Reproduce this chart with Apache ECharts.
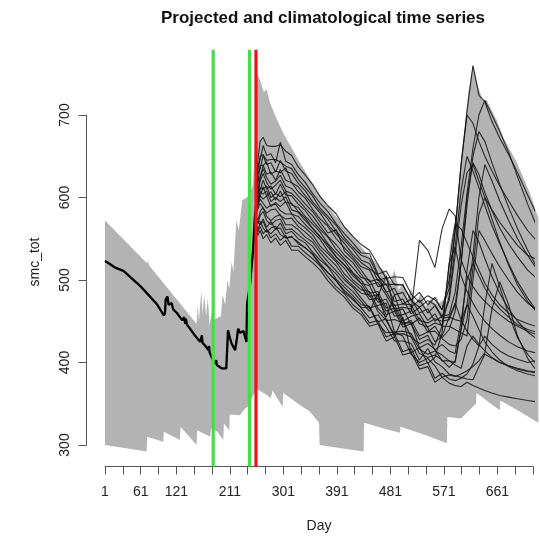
<!DOCTYPE html>
<html><head><meta charset="utf-8">
<script src="https://cdn.jsdelivr.net/npm/echarts@6/dist/echarts.min.js"></script>
<style>html,body{margin:0;padding:0;background:#fff}#c{width:540px;height:537px}</style>
</head><body><div id="c"></div>
<script>
const chartTitle = 'Projected and climatological time series';
const xTicks = [1,31,61,91,121,151,181,211,241,271,301,331,361,391,421,451,481,511,541,571,601,631,661,691,721];
const xLabels = [1,61,121,211,301,391,481,571,661];
const yMin = 300, yMax = 700, yStep = 100;

// climatological envelope
const envUpperDays = [1,72,73,75,155,157,159,163,165,168,171,174,177,181,184,196,199,203,207,210,214,217,222,226,232,240,245,250,253,256,262,268,273,279,290,301,312,329,357,385,413,441,469,482,488,495,503,510,516,524,532,540,550,560,570,576,581,587,593,598,604,612,620,629,637,643,660,671,694,716,730];
const envUpper = [572,520,525,518,447,470,450,487,458,482,456,478,445,462,452,456,482,470,500,490,522,510,573,560,597,600,606,615,660,752,742,728,731,714,695,678,664,642,609,581,558,532,512,498,512,488,497,478,490,470,484,468,478,470,476,474,540,562,585,630,666,727,761,734,716,718,694,673,642,605,575];
const envLowerDays = [1,71,72,99,100,127,128,155,156,178,179,190,200,201,210,211,228,235,243,250,256,270,280,283,300,301,330,345,361,362,390,436,437,470,497,498,540,576,577,600,612,625,626,665,666,700,730];
const envLower = [300,292,310,304,316,306,322,300,318,310,320,316,306,326,318,337,336,343,348,360,368,362,357,366,346,363,348,341,327,300,297,292,327,320,315,322,312,302,334,332,341,350,363,342,354,340,327];

// observed series
const obsDays = [1,8,14,17,18,32,46,60,74,88,100,102,103,106,108,110,113,116,122,127,131,134,136,137,139,144,152,161,164,165,170,175,176,177,183,186,188,189,197,205,208,211,214,220,223,225,228,231,234,237,239,240,245,250,253,255];
const obsValues = [523,520,517,519,515,511,502,493,482,471,457,460,476,480,470,468,472,464,460,455,451,455,447,453,446,441,433,425,433,424,420,415,420,412,402,399,403,397,393,393,439,430,423,415,430,441,436,438,438,430,425,471,495,535,575,590];

// projected ensemble members
const projDays = [255,258,262,267,273,280,288,296,305,315,326,338,350,363,376,390,404,418,432,446,460,474,488,502,516,530,544,556,568,580,590,600,610,620,630,640,652,665,680,695,712,730];
const member01 = [610,637,646,663,651,653,642,667,644,640,628,618,605,593,583,568,556,545,533,532,507,511,494,494,476,485,470,479,464,500,560,640,705,760,724,716,692,672,652,630,603,575];
const member02 = [603,616,639,639,643,628,632,630,636,618,613,602,592,581,567,556,544,531,521,514,506,485,490,471,477,460,465,450,456,458,485,540,605,660,700,718,700,680,655,625,592,560];
const member03 = [615,645,668,673,663,662,662,664,656,651,637,627,616,601,590,580,564,553,543,536,519,502,504,503,483,473,481,476,464,490,560,640,700,690,668,650,632,614,596,578,560,545];
const member04 = [597,605,625,635,624,616,620,627,614,611,602,592,583,570,557,561,535,525,512,498,501,486,469,471,470,451,448,453,450,452,470,520,590,650,680,668,642,616,588,562,536,512];
const member05 = [592,608,609,621,610,614,604,616,603,602,592,584,572,561,552,537,526,515,503,500,480,505,462,465,446,454,437,444,430,440,462,520,600,642,628,606,584,563,544,528,512,500];
const member06 = [588,591,607,604,608,595,600,595,601,585,582,572,563,553,540,528,518,505,496,480,482,462,466,446,451,432,437,438,429,422,420,428,452,515,580,600,574,546,518,494,474,459];
const member07 = [583,590,598,593,587,591,592,584,580,580,570,563,555,541,532,522,507,497,488,486,466,455,482,452,431,423,428,421,444,520,568,562,545,528,512,496,482,470,460,452,447,443];
const member08 = [578,572,583,588,577,572,577,579,567,567,561,552,546,533,522,511,500,491,478,466,469,472,437,438,435,416,410,414,409,402,400,440,512,560,546,526,504,484,465,450,437,427];
const member09 = [573,575,567,574,564,571,561,569,556,559,550,545,534,524,516,501,491,481,470,468,449,453,431,455,412,418,399,406,436,520,540,505,486,472,460,450,441,433,425,419,414,411];
const member10 = [568,558,565,556,561,551,556,548,554,541,541,533,526,517,504,492,483,470,462,448,451,431,435,413,417,396,400,381,387,380,378,381,386,398,420,470,520,492,458,430,410,395];
const member11 = [570,569,571,563,558,563,565,555,551,553,544,539,531,518,509,499,485,476,467,466,447,436,437,432,410,400,405,396,382,385,383,386,390,395,402,412,465,498,470,432,405,387];
const member12 = [575,568,578,583,572,567,572,574,561,562,555,548,541,528,517,507,495,486,474,462,483,451,434,435,431,411,406,409,403,394,402,440,470,456,440,425,413,403,395,390,386,383];
const member13 = [586,601,601,613,602,607,597,608,594,593,583,575,563,552,543,528,518,508,496,493,473,477,456,458,462,548,536,515,562,586,578,525,505,492,482,474,466,458,450,444,438,433];
const member14 = [565,554,560,550,555,545,551,542,548,536,536,528,521,512,499,488,479,466,458,444,447,426,431,409,412,392,395,376,382,375,372,371,376,372,369,366,363,360,358,356,354,352];
const member15 = [580,586,593,587,581,585,586,578,574,575,565,558,550,537,527,517,503,493,484,482,462,451,452,448,448,418,423,416,402,402,397,393,420,432,422,414,406,400,396,392,389,387];
const member16 = [595,601,620,629,618,610,615,621,608,605,597,587,578,565,553,543,530,521,507,494,497,482,465,467,465,447,443,448,445,480,540,608,650,632,612,590,566,544,520,498,478,460];
const member17 = [600,620,624,639,628,631,621,634,621,618,607,599,586,574,565,550,539,528,516,512,492,495,474,477,459,467,451,459,444,444,440,436,432,500,560,548,532,516,500,485,472,462];
const member18 = [590,595,612,610,614,600,605,601,607,591,588,577,568,558,544,533,523,509,500,484,486,466,470,450,456,459,442,425,432,455,472,452,438,428,420,432,422,414,408,404,400,403];
const member19 = [607,631,650,652,645,646,646,643,638,635,622,612,602,587,577,566,551,540,530,526,505,494,495,494,475,467,475,470,456,475,530,590,630,640,620,600,585,570,556,542,530,524];
const member20 = [571,561,568,571,561,556,562,563,551,552,546,539,532,520,509,499,487,478,466,454,458,443,426,426,423,403,417,401,395,386,384,382,380,379,395,410,405,400,396,393,390,388];
const member21 = [605,629,635,651,640,642,631,645,632,629,617,608,595,584,574,559,548,537,524,520,499,503,482,485,467,476,460,469,454,455,452,450,470,530,600,640,620,596,572,550,530,510];
const member22 = [585,587,602,598,602,589,594,589,595,580,577,567,559,549,535,524,514,500,492,476,478,458,462,443,447,428,433,415,422,414,411,450,500,520,505,490,476,465,455,446,440,436];
const members = [member01,member02,member03,member04,member05,member06,member07,member08,member09,member10,member11,member12,member13,member14,member15,member16,member17,member18,member19,member20,member21,member22];

// vertical marker lines (day) and their vertical extent (values)
const markerDays = [183, 244, 255];
const markerColors = ['#47dd47', '#47dd47', '#e8141a'];
const markerSpan = [274, 779];

const FONT = '"Liberation Sans", Arial, Helvetica, sans-serif';
const pairs = (xs, ys) => xs.slice(0, Math.min(xs.length, ys.length)).map((x, i) => [x, ys[i]]);

const series = [];
series.push({
  type: 'custom', coordinateSystem: 'cartesian2d', silent: true, clip: false, z: 1,
  data: [[envUpperDays[0], envUpper[0]]],
  renderItem: function (params, api) {
    const pts = [];
    for (let i = 0; i < envUpperDays.length; i++) pts.push(api.coord([envUpperDays[i], envUpper[i]]));
    for (let i = envLowerDays.length - 1; i >= 0; i--) pts.push(api.coord([envLowerDays[i], envLower[i]]));
    return { type: 'polygon', shape: { points: pts }, style: { fill: '#b3b3b3', stroke: null } };
  }
});
members.forEach(m => series.push({
  type: 'line', data: pairs(projDays, m), symbol: 'none', clip: false, silent: true, z: 2,
  lineStyle: { color: '#111', width: 1.1, opacity: 0.85 }
}));
series.push({
  type: 'line', data: pairs(obsDays, obsValues), symbol: 'none', clip: false, silent: true, z: 3,
  lineStyle: { color: '#000', width: 2.3 }
});
markerDays.forEach((d, i) => series.push({
  type: 'line', data: [[d, markerSpan[0]], [d, markerSpan[1]]], symbol: 'none', clip: false, silent: true, z: 4,
  lineStyle: { color: markerColors[i], width: 3.2 }
}));

const chart = echarts.init(document.getElementById('c'), null, { renderer: 'canvas' });
chart.setOption({
  animation: false,
  backgroundColor: '#fff',
  title: {
    text: chartTitle, left: 318, top: 5, textAlign: 'center',
    textStyle: { fontSize: 17, fontWeight: 'bold', color: '#111', fontFamily: FONT }
  },
  grid: { left: 105, right: 7, top: 115, bottom: 92, containLabel: false, outerBoundsMode: 'none' },
  xAxis: {
    type: 'value', min: xTicks[0], max: xTicks[xTicks.length - 1], offset: 21.5,
    axisLine: { show: true, onZero: false, lineStyle: { color: '#555', width: 1 } },
    axisTick: { show: true, customValues: xTicks, length: 8, lineStyle: { color: '#555', width: 1 } },
    axisLabel: { customValues: xLabels, margin: 19, fontSize: 14, color: '#222', fontFamily: FONT },
    splitLine: { show: false },
    name: 'Day', nameLocation: 'middle', nameGap: 53,
    nameTextStyle: { fontSize: 14, color: '#222', fontFamily: FONT }
  },
  yAxis: {
    type: 'value', min: yMin, max: yMax, interval: yStep, offset: 18.5,
    axisLine: { show: true, onZero: false, lineStyle: { color: '#555', width: 1 } },
    axisTick: { show: true, length: 8, lineStyle: { color: '#555', width: 1 } },
    axisLabel: { rotate: 90, margin: 14, fontSize: 14, color: '#222', fontFamily: FONT },
    splitLine: { show: false },
    name: 'smc_tot', nameLocation: 'middle', nameGap: 44, nameRotate: 90,
    nameTextStyle: { fontSize: 14, color: '#222', fontFamily: FONT, padding: [0, 0, 0, 36] }
  },
  series: series
});
</script>
</body></html>
